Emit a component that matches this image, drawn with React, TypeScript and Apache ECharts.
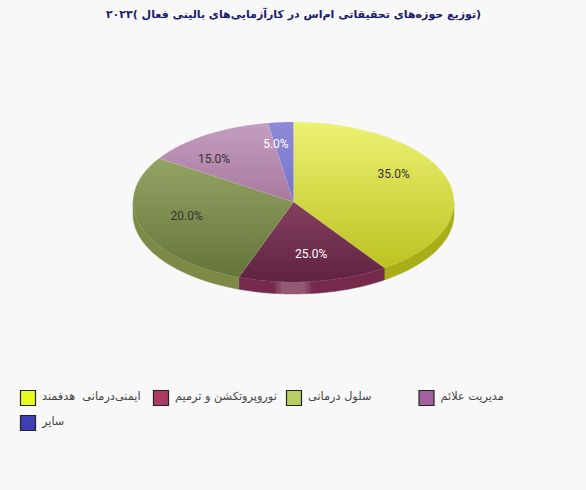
import React, { useEffect, useRef } from "react";
import * as echarts from "echarts";

const titleText = "\u202B(توزیع حوزه‌های تحقیقاتی ام‌اس در کارآزمایی‌های بالینی فعال )۲۰۲۳\u202C";
const categories = ["ایمنی‌درمانی  هدفمند", "نوروپروتکشن و ترمیم", "سلول درمانی", "مدیریت علائم", "سایر"];
const values = [35, 25, 20, 15, 5];
const topLight = ["#ecf272", "#85405f", "#93a465", "#c39ec0", "#8d8bd8"];
const topDark = ["#bdc222", "#5f2240", "#657438", "#a9789f", "#7674c6"];
const sideColors = ["#a9ad17", "#752a4c", "#7d8a45", "#7d8a45", "#7d8a45"];
const labelColors = ["#333333", "#ffffff", "#333333", "#333333", "#ffffff"];
const swatchColors = ["#e8fb1e", "#ae3a64", "#b7cf62", "#a2609f", "#3f3fb4"];

const CX = 293.5, CY = 202, RX = 160.5, RY = 80, DEPTH = 12;
const legendX = [20.5, 153.5, 286.5, 419];
const FONT = "Tahoma, 'DejaVu Sans', 'Noto Sans', sans-serif";

const ray = (deg: number, dy = 0): number[] => {
  const t = (deg * Math.PI) / 180;
  const s = Math.sin(t), c = Math.cos(t);
  const r = 1 / Math.sqrt((s / RX) ** 2 + (c / RY) ** 2);
  return [CX + r * s, CY - r * c + dy];
};
const arc = (a: number, b: number, dy = 0): number[][] => {
  const pts: number[][] = [];
  const n = Math.max(2, Math.ceil(Math.abs(b - a)));
  for (let i = 0; i <= n; i++) pts.push(ray(a + ((b - a) * i) / n, dy));
  return pts;
};

export default function App() {
  const ref = useRef<HTMLDivElement>(null);
  useEffect(() => {
    const chart = echarts.init(ref.current!, null, { renderer: "svg" });
    const total = values.reduce((a, b) => a + b, 0);
    const ranges: number[][] = [];
    let acc = 0;
    values.forEach((v) => {
      const s = (acc / total) * 360;
      acc += v;
      ranges.push([s, (acc / total) * 360]);
    });
    const renderItem = (_: any, api: any) => {
      const i = api.value(0);
      const [a, b] = ranges[i];
      const children: any[] = [];
      const sa = Math.max(a, 90), sb = Math.min(b, 270);
      if (sb > sa) {
        const top = arc(sa, sb);
        const bottom = arc(sa, sb, DEPTH).reverse();
        children.push({
          type: "polygon",
          shape: { points: [...top, ...bottom] },
          style: { fill: sideColors[i], stroke: sideColors[i], lineWidth: 0.5 },
        });
      }
      children.push({
        type: "polygon",
        shape: { points: [[CX, CY], ...arc(a, b)] },
        style: {
          fill: new echarts.graphic.LinearGradient(0, 0, 0, 1, [
            { offset: 0, color: topLight[i] },
            { offset: 1, color: topDark[i] },
          ]),
          stroke: "rgba(255,255,255,0.15)",
          lineWidth: 0.3,
        },
      });
      const t = (((a + b) / 2) * Math.PI) / 180;
      children.push({
        type: "text",
        x: CX + 0.7 * RX * Math.sin(t),
        y: CY - 3 - 0.7 * RY * Math.cos(t),
        style: {
          text: values[i].toFixed(1) + "%",
          fill: labelColors[i],
          font: "12px Roboto, Arial, sans-serif",
          align: "center",
          verticalAlign: "middle",
        },
      });
      return { type: "group", children };
    };
    const graphic: any[] = [
      {
        type: "rect",
        shape: { x: 275, y: 282, width: 36, height: 13 },
        z: 50,
        style: {
          fill: new echarts.graphic.LinearGradient(0, 0, 1, 0, [
            { offset: 0, color: "rgba(255,255,255,0.05)" },
            { offset: 0.2, color: "rgba(255,255,255,0.22)" },
            { offset: 0.8, color: "rgba(255,255,255,0.22)" },
            { offset: 1, color: "rgba(255,255,255,0.05)" },
          ]),
        },
      },
    ];
    categories.forEach((name, i) => {
      const col = i % 4, row = Math.floor(i / 4);
      const x = legendX[col], y = 390.5 + row * 25;
      graphic.push({
        type: "rect",
        shape: { x, y, width: 15, height: 15 },
        style: { fill: swatchColors[i], stroke: "#222222", lineWidth: 1.2 },
      });
      graphic.push({
        type: "text",
        x: x + 21.5,
        y: y + 5.5,
        style: { text: name, fill: "#444444", font: "11.3px " + FONT, align: "left", verticalAlign: "middle" },
      });
    });
    graphic.push({
      type: "text",
      x: 293.5,
      y: 14,
      style: { text: titleText, fill: "#1a1a6e", font: "bold 11px " + FONT, align: "center", verticalAlign: "middle" },
    });
    chart.setOption({
      animation: false,
      backgroundColor: "#f8f8f8",
      series: [
        {
          type: "custom",
          coordinateSystem: "none",
          renderItem,
          data: values.map((v, i) => [i, v]),
          clip: false,
          silent: true,
        },
      ],
      graphic,
    });
    return () => chart.dispose();
  }, []);
  return <div ref={ref} style={{ position: "fixed", left: 0, top: 0, width: 586, height: 490 }} />;
}
